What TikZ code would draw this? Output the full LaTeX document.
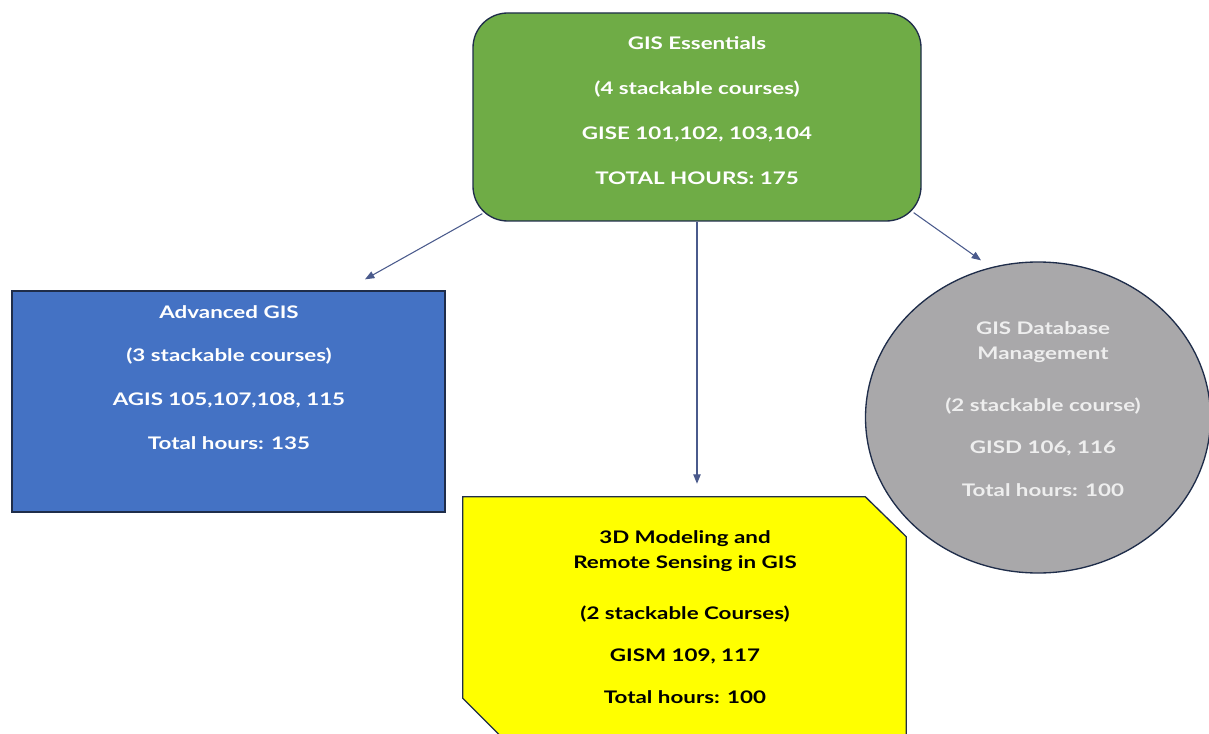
\documentclass[tikz,border=0pt]{standalone}
\usepackage{fontspec}
\setmainfont{Lato}[FakeStretch=1.29]
\usetikzlibrary{shapes.geometric,arrows.meta,calc}
\definecolor{essgreen}{HTML}{6FAC46}
\definecolor{advblue}{HTML}{4472C4}
\definecolor{rsyellow}{HTML}{FFFF00}
\definecolor{dbgray}{HTML}{A9A8AA}
\definecolor{edgenavy}{HTML}{1F2D4A}
\definecolor{arrowblue}{HTML}{4A5A8C}
\definecolor{dbtext}{HTML}{EEEEEE}
\tikzset{
  boxline/.style={draw=edgenavy, line width=1pt},
  label13/.style={font=\fontsize{13}{18.75}\selectfont\bfseries, align=center, anchor=north, inner sep=0pt},
  arr/.style={draw=arrowblue, line width=0.8pt, -{Triangle[length=7pt,width=5.5pt]}},
}
\begin{document}
\begin{tikzpicture}[x=0.75pt,y=-0.75pt]
\useasboundingbox (0,0) rectangle (1209,734);
\begin{scope}
\clip (0,0) rectangle (1209,734);
% shapes
\node[boxline, fill=essgreen, rounded corners=26pt, minimum width=336pt, minimum height=156pt, inner sep=0pt] (ess) at (697,117) {};
\node[boxline, fill=advblue, minimum width=324.75pt, minimum height=165.75pt, inner sep=0pt] (adv) at (228.5,401.5) {};
\node[minimum width=332.25pt, minimum height=204.75pt, inner sep=0pt] (rs) at (684.5,633.5) {};
\draw[boxline, fill=rsyellow] (rs.north west) -- ($(rs.north east)+(-41,0)$) -- ($(rs.north east)+(0,40)$) -- (rs.south east) -- ($(rs.south west)+(72,0)$) -- ($(rs.south west)+(0,-72)$) -- cycle;
\node[boxline, fill=dbgray, ellipse, minimum width=258.75pt, minimum height=233.25pt, inner sep=0pt] (db) at (1038,417.5) {};
% texts
\node[label13, text=white] (esst) at (697,36) {GIS Essentials\\[15pt](4 stackable courses)\\[15pt]GISE 101,102, 103,104\\[15pt]TOTAL HOURS: 175};
\node[label13, text=white] (advt) at (229,305) {Advanced GIS\\[14pt](3 stackable courses)\\[14pt]AGIS 105,107,108, 115\\[14pt]Total hours: 135};
\node[label13, text=black] (rst) at (685,530) {3D Modeling and\\Remote Sensing in GIS\\[19.5pt](2 stackable Courses)\\[12.75pt]GISM 109, 117\\[12.75pt]Total hours: 100};
\node[label13, text=dbtext] (dbt) at (1043,321) {GIS Database\\Management\\[20.25pt](2 stackable course)\\[12.75pt]GISD 106, 116\\[13.5pt]Total hours: 100};
% connectors
\coordinate (advend) at ($(adv.north)+(136.5,-11)$);
\coordinate (rsend) at ($(rs.north)+(12.5,-13)$);
\coordinate (dbend) at ($(db.north)+(-57,-1)$);
\draw[arr] ($(ess.south west)+(10,-8)$) -- (advend);
\draw[arr] (ess.south) -- (rsend);
\draw[arr] ($(ess.south east)+(-8,-9)$) -- (dbend);
\end{scope}
\end{tikzpicture}
\end{document}
